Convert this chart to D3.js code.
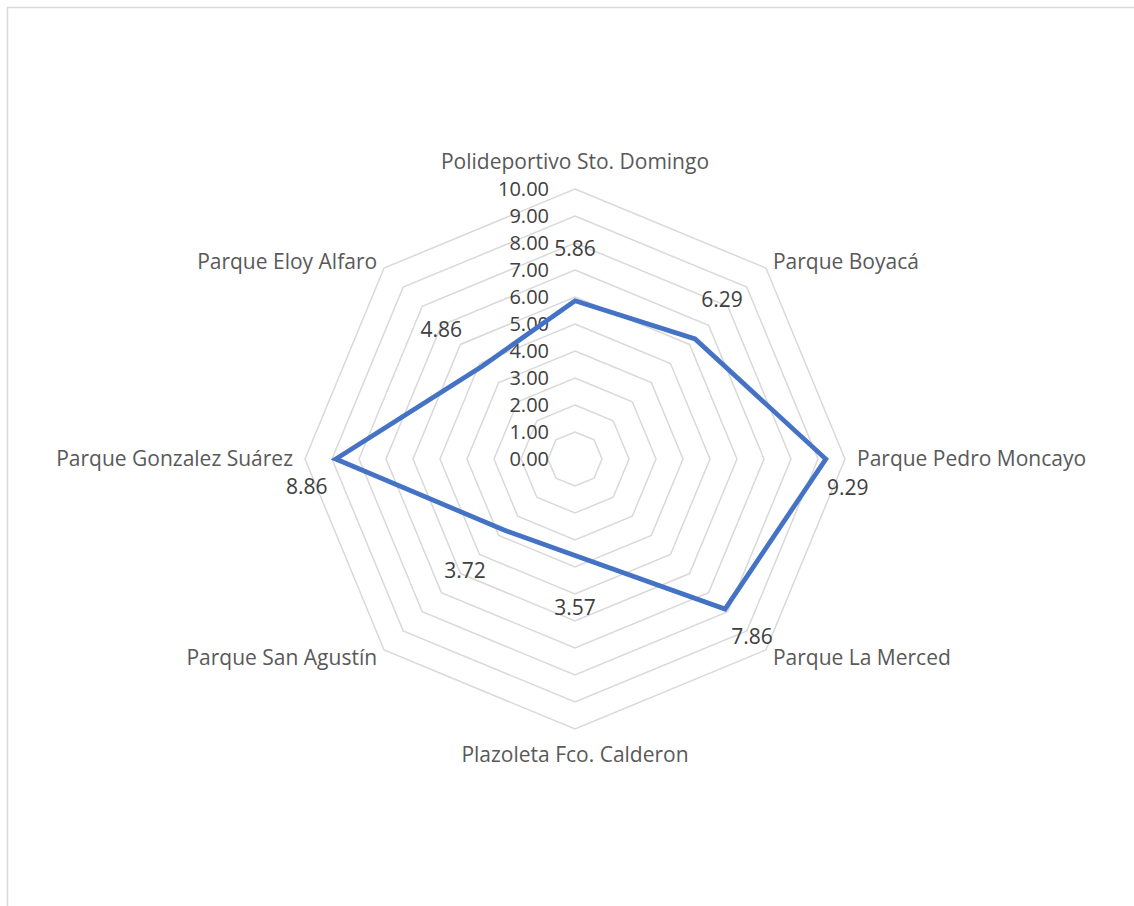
<!DOCTYPE html>
<html>
<head>
<meta charset="utf-8">
<script src="https://cdn.jsdelivr.net/npm/d3@7"></script>
<style>
  body { margin: 0; background: #fff; }
  text { font-family: "Open Sans", "Noto Sans", sans-serif; }
</style>
</head>
<body>
<div id="radar"></div>
<script>
// categories, clockwise from the top
var categories = ["Polideportivo Sto. Domingo", "Parque Boyacá", "Parque Pedro Moncayo",
  "Parque La Merced", "Plazoleta Fco. Calderon", "Parque San Agustín",
  "Parque Gonzalez Suárez", "Parque Eloy Alfaro"];
var values = [5.86, 6.29, 9.29, 7.86, 3.57, 3.72, 8.86, 4.86];
var ticks = [0, 1, 2, 3, 4, 5, 6, 7, 8, 9, 10];

var width = 1134, height = 906;
var cx = 575, cy = 459;

var svg = d3.select("#radar")
  .append("svg")
    .attr("width", width)
    .attr("height", height);

// chart border (cropped on right and bottom)
svg.append("rect")
  .attr("x", 7.5).attr("y", 7.5)
  .attr("width", 1300).attr("height", 1100)
  .attr("fill", "none")
  .attr("stroke", "#d9d9d9")
  .attr("stroke-width", 1.5);

var r = d3.scaleLinear().domain([0, 10]).range([0, 270]);
var angle = d3.scalePoint()
  .domain(d3.range(categories.length + 1))
  .range([0, 2 * Math.PI]);

var g = svg.append("g")
  .attr("transform", "translate(" + cx + "," + cy + ")");

function pt(i, v) {
  var a = angle(i);
  return [Math.sin(a) * r(v), -Math.cos(a) * r(v)];
}

// grid rings
g.selectAll(".ring")
  .data(ticks.slice(1))
  .enter()
  .append("path")
    .attr("class", "ring")
    .attr("d", function(t) {
      return d3.line()(categories.map(function(c, i) { return pt(i, t); })) + "Z";
    })
    .attr("fill", "none")
    .attr("stroke", "#d9d9d9")
    .attr("stroke-width", 1.5);

// tick labels
g.selectAll(".tick")
  .data(ticks)
  .enter()
  .append("text")
    .attr("x", -26)
    .attr("y", function(t) { return -r(t); })
    .attr("dy", "0.35em")
    .attr("text-anchor", "end")
    .attr("font-size", 20)
    .attr("fill", "#404040")
    .text(function(t) { return t.toFixed(2); });

// series
g.append("path")
  .attr("d", d3.line()(values.map(function(v, i) { return pt(i, v); })) + "Z")
  .attr("fill", "none")
  .attr("stroke", "#4472C4")
  .attr("stroke-width", 4.75)
  .attr("stroke-linejoin", "miter");

// category labels
g.selectAll(".cat")
  .data(categories)
  .enter()
  .append("text")
    .attr("class", "cat")
    .each(function(c, i) {
      var p = pt(i, 10);
      var s = Math.round(Math.sin(angle(i)) * 100) / 100;
      var co = Math.round(Math.cos(angle(i)) * 100) / 100;
      var x = p[0], y = p[1], anchor = "middle";
      if (s > 0) { anchor = "start"; x += s === 1 ? 12 : 7; }
      if (s < 0) { anchor = "end"; x -= s === -1 ? 12 : 7; }
      if (s === 0) { y += co > 0 ? -27 : 26; }
      else if (co > 0) { y -= 6; }
      else if (co < 0) { y += 8; }
      d3.select(this)
        .attr("x", x).attr("y", y)
        .attr("dy", "0.35em")
        .attr("text-anchor", anchor);
    })
    .attr("font-size", 21)
    .attr("fill", "#595959")
    .text(function(c) { return c; });

// data labels, placed relative to each point
var labelShift = [[0, -52], [27, -39], [22, 29], [27, 28], [0, 52], [-39, 41], [-29, 28], [-41, -37]];
g.selectAll(".val")
  .data(values)
  .enter()
  .append("text")
    .attr("x", function(v, i) { return pt(i, v)[0] + labelShift[i][0]; })
    .attr("y", function(v, i) { return pt(i, v)[1] + labelShift[i][1]; })
    .attr("dy", "0.35em")
    .attr("text-anchor", "middle")
    .attr("font-size", 21)
    .attr("fill", "#404040")
    .text(function(v) { return v.toFixed(2); });
</script>
</body>
</html>
